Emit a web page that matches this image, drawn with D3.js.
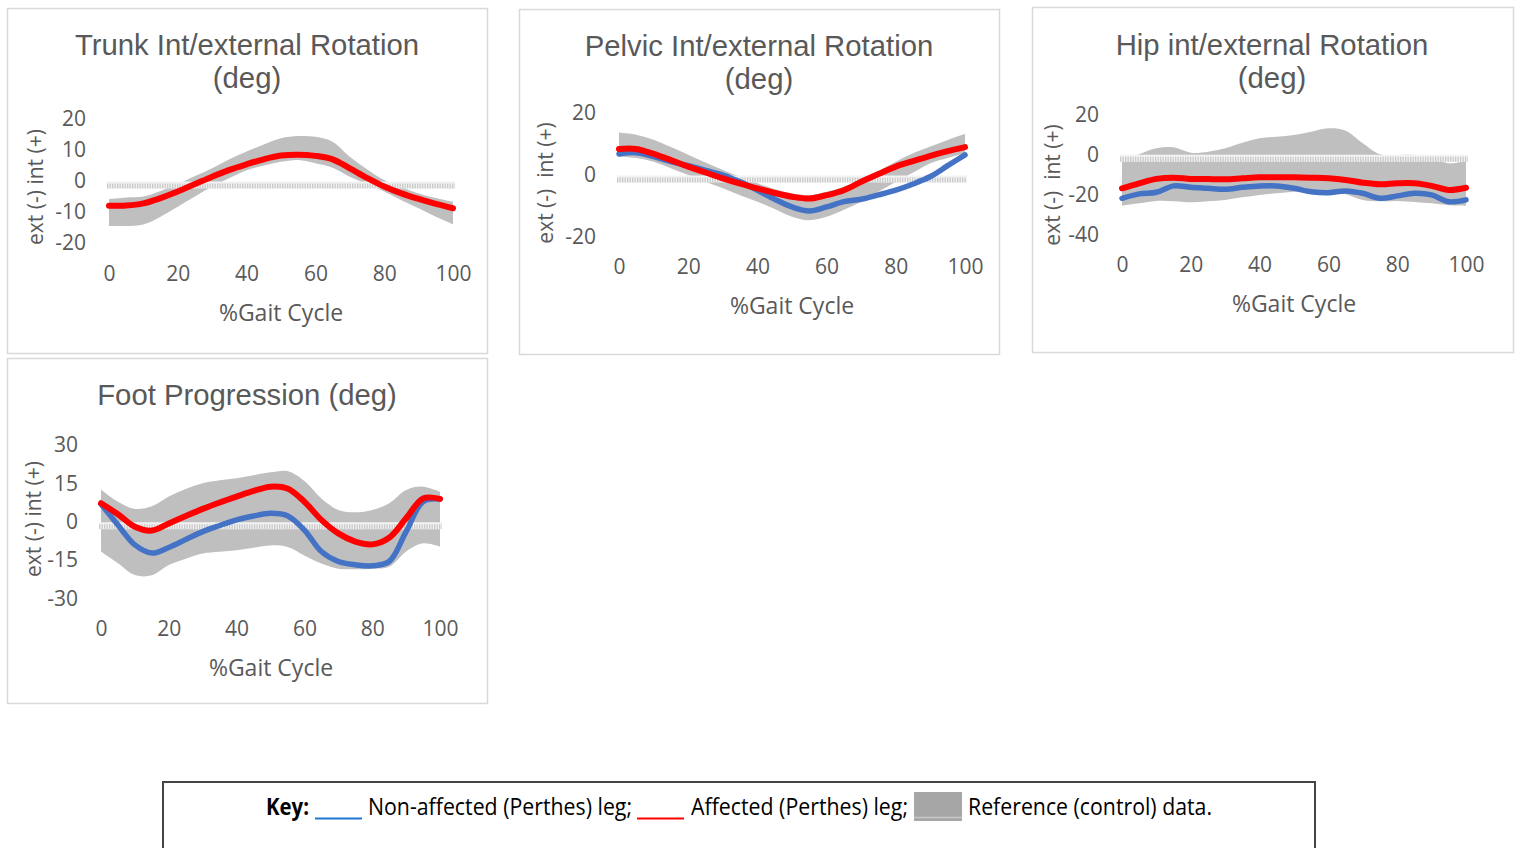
<!DOCTYPE html>
<html>
<head>
<meta charset="utf-8">
<script src="https://cdn.jsdelivr.net/npm/d3@7"></script>
<style>
  body { margin: 0; background: #fff; }
  svg { display: block; }
  .title { font-family: "Liberation Sans", Arial, sans-serif; font-size: 29.3px; fill: #595959; }
  .tick text { font-family: "Open Sans", sans-serif; font-size: 21px; fill: #595959; }
  .axis-title { font-family: "Open Sans", sans-serif; font-size: 23px; fill: #595959; white-space: pre; }
  .ytitle { font-family: "Open Sans", sans-serif; font-size: 21px; fill: #595959; white-space: pre; }
  .key { font-family: "Open Sans", sans-serif; font-size: 23px; fill: #000; }
</style>
</head>
<body>
<svg id="chart" width="1522" height="848"></svg>
<script>
// % gait cycle sample points (shared by all panels)
const gait = [0, 5, 10, 15, 20, 25, 30, 35, 40, 45, 50, 55, 60, 65, 70, 75, 80, 85, 90, 95, 100];

// Trunk int/external rotation
const trunkAffected = [-8.0, -7.9, -7.2, -5.5, -3.4, -1.0, 1.4, 3.6, 5.4, 7.0, 8.2, 8.5, 8.1, 7.0, 4.1, 1.0, -1.8, -4.0, -5.8, -7.4, -8.8];
const trunkRefUpper = [-5.8, -5.3, -5.0, -3.2, -1.0, 1.6, 4.1, 7.0, 9.5, 11.8, 13.8, 14.5, 14.3, 12.7, 7.8, 3.8, 0.3, -2.0, -4.0, -5.5, -6.7];
const trunkRefLower = [-14.5, -14.5, -14.0, -11.5, -8.3, -5.0, -1.8, 1.0, 3.5, 5.0, 6.2, 6.8, 5.7, 4.3, 1.4, -1.0, -3.4, -6.2, -8.8, -11.5, -13.9];

// Pelvic int/external rotation
const pelvicAffected = [8.4, 8.4, 6.8, 4.8, 2.7, 0.8, -1.1, -2.8, -4.3, -5.8, -7.0, -7.6, -6.5, -4.9, -2.2, 0.3, 2.7, 4.5, 6.2, 7.7, 9.0];
const pelvicNonAffected = [6.8, 7.2, 5.9, 4.3, 3.0, 1.5, 0.0, -2.2, -4.9, -7.8, -10.3, -11.6, -10.3, -8.6, -7.8, -6.4, -4.9, -2.9, -0.5, 3.0, 6.5];
const pelvicRefUpper = [13.7, 13.0, 11.4, 9.0, 6.5, 4.0, 1.6, -0.6, -2.7, -4.5, -5.9, -6.5, -5.4, -3.8, -1.6, 1.3, 4.3, 7.0, 9.2, 11.3, 13.3];
const pelvicRefLower = [5.9, 5.5, 4.3, 2.2, 0.0, -2.2, -4.3, -6.5, -8.6, -11.0, -13.5, -14.6, -13.5, -11.2, -8.6, -5.4, -2.2, 0.8, 3.8, 5.5, 7.0];

// Hip int/external rotation
const hipAffected = [-17.0, -14.5, -12.3, -11.7, -12.3, -12.4, -12.5, -12.0, -11.5, -11.5, -11.5, -11.7, -12.0, -12.8, -14.2, -15.0, -14.5, -14.5, -15.8, -17.8, -16.7];
const hipNonAffected = [-22.0, -19.8, -19.0, -15.8, -16.5, -17.0, -17.5, -16.5, -15.8, -15.8, -17.0, -18.7, -19.2, -18.3, -19.5, -22.0, -20.8, -19.5, -20.3, -23.7, -22.8];
const hipRefUpper = [-3.7, 0.0, 3.0, 3.5, 0.8, 1.3, 3.0, 5.8, 8.0, 8.8, 9.7, 11.3, 13.0, 11.8, 5.5, 0.0, -0.3, -0.3, -1.2, -4.5, -3.2];
const hipRefLower = [-25.7, -24.5, -23.3, -23.5, -24.0, -23.5, -22.8, -21.5, -20.3, -19.5, -18.7, -18.4, -18.2, -20.0, -22.8, -23.5, -23.3, -23.8, -24.5, -25.5, -25.8];

// Foot progression
const footAffected = [7.2, 2.9, -2.0, -3.5, -0.7, 2.2, 5.0, 7.5, 9.8, 12.0, 13.7, 13.0, 7.8, 0.7, -4.6, -7.8, -8.9, -6.3, 1.3, 9.1, 8.9];
const footNonAffected = [6.9, -1.3, -9.1, -12.3, -10.1, -7.0, -3.9, -1.5, 0.7, 2.2, 3.3, 2.3, -3.3, -11.7, -15.6, -16.9, -17.3, -15.6, -3.9, 7.8, 8.9];
const footRefUpper = [12.6, 7.8, 5.0, 6.0, 9.8, 12.8, 15.0, 16.2, 17.0, 18.2, 19.3, 19.8, 15.9, 9.1, 4.6, 3.7, 4.6, 7.2, 12.4, 13.7, 11.7];
const footRefLower = [-11.7, -16.3, -20.9, -21.0, -17.0, -14.5, -12.5, -11.8, -11.2, -10.2, -9.3, -9.9, -13.2, -16.4, -18.4, -18.6, -18.4, -17.7, -11.7, -8.5, -9.8];

// axis ticks
const xTicks = [0, 20, 40, 60, 80, 100];
const trunkTicks = [-20, -10, 0, 10, 20];
const pelvicTicks = [-20, 0, 20];
const hipTicks = [-40, -20, 0, 20];
const footTicks = [-30, -15, 0, 15, 30];

const BLUE = "#4472c4", RED = "#ff0000", BAND = "#bfbfbf";

const svg = d3.select("#chart");
const plain = d => String(d); // hyphen minus, like the original

function drawPanel(p) {
  const g = svg.append("g");

  g.append("rect")
    .attr("x", p.box[0] + 0.5).attr("y", p.box[1] + 0.5)
    .attr("width", p.box[2]).attr("height", p.box[3])
    .attr("fill", "#fff").attr("stroke", "#d9d9d9").attr("stroke-width", 1.5);

  p.title.forEach((t, i) => {
    g.append("text").attr("class", "title")
      .attr("x", p.titleX).attr("y", p.titleY[i])
      .attr("text-anchor", "middle").text(t);
  });

  const x = d3.scaleLinear().domain([0, 100]).range(p.xRange);
  const y = d3.scaleLinear().domain(p.yDomain).range(p.yRange);

  const band = d3.area()
    .x((d, i) => x(gait[i]))
    .y0((d, i) => y(p.lower[i]))
    .y1((d, i) => y(p.upper[i]))
    .curve(d3.curveCatmullRom);

  g.append("path").datum(p.upper).attr("d", band).attr("fill", BAND);

  // hatched zero line
  const y0 = y(0) + 4;
  g.append("line")
    .attr("x1", x(0) - 2).attr("x2", x(100) + 2).attr("y1", y0).attr("y2", y0)
    .attr("stroke", "#f2f2f2").attr("stroke-width", 7);
  g.append("line")
    .attr("x1", x(0) - 2).attr("x2", x(100) + 2).attr("y1", y0 + 1).attr("y2", y0 + 1)
    .attr("stroke", "#c9c9c9").attr("stroke-width", 5)
    .attr("stroke-dasharray", "1.3,1.2");

  const line = d3.line()
    .x((d, i) => x(gait[i]))
    .y(d => y(d))
    .curve(d3.curveCatmullRom);

  if (p.nonAffected) {
    g.append("path").datum(p.nonAffected).attr("d", line)
      .attr("fill", "none").attr("stroke", BLUE).attr("stroke-width", 5.5)
      .attr("stroke-linecap", "round").attr("stroke-linejoin", "round");
  }
  g.append("path").datum(p.affected).attr("d", line)
    .attr("fill", "none").attr("stroke", RED).attr("stroke-width", 6)
    .attr("stroke-linecap", "round").attr("stroke-linejoin", "round");

  const xAxis = g.append("g")
    .attr("transform", `translate(0,${p.xLabelY - 7.5})`)
    .call(d3.axisBottom(x).tickValues(xTicks).tickFormat(plain).tickSize(0).tickPadding(0));
  xAxis.select(".domain").remove();

  const yAxis = g.append("g")
    .attr("transform", `translate(${p.yLabelX},0)`)
    .call(d3.axisLeft(y).tickValues(p.yTicks).tickFormat(plain).tickSize(0).tickPadding(0));
  yAxis.select(".domain").remove();

  g.append("text").attr("class", "axis-title")
    .attr("x", p.xTitle[0]).attr("y", p.xTitle[1] + 8)
    .attr("text-anchor", "middle").text("%Gait Cycle");

  g.append("text").attr("class", "ytitle")
    .attr("transform", `translate(${p.yTitle[0]},${p.yTitle[1]}) rotate(-90)`)
    .attr("text-anchor", "middle").attr("dominant-baseline", "central")
    .text(p.yLabel);
}

drawPanel({
  box: [7, 8, 480, 345],
  title: ["Trunk Int/external Rotation", "(deg)"], titleX: 247, titleY: [55, 88],
  xRange: [109, 453], yDomain: [-20, 20], yRange: [243, 119], yTicks: trunkTicks,
  upper: trunkRefUpper, lower: trunkRefLower, affected: trunkAffected, nonAffected: null,
  xLabelY: 274, yLabelX: 86, xTitle: [281, 313], yTitle: [35, 187], yLabel: "ext (-) int (+)"
});

drawPanel({
  box: [519, 9, 480, 345],
  title: ["Pelvic Int/external Rotation", "(deg)"], titleX: 759, titleY: [56, 89],
  xRange: [619, 965], yDomain: [-20, 20], yRange: [237, 113], yTicks: pelvicTicks,
  upper: pelvicRefUpper, lower: pelvicRefLower, affected: pelvicAffected, nonAffected: pelvicNonAffected,
  xLabelY: 267, yLabelX: 596, xTitle: [792, 306], yTitle: [545, 183], yLabel: "ext (-)  int (+)"
});

drawPanel({
  box: [1032, 7, 481, 345],
  title: ["Hip int/external Rotation", "(deg)"], titleX: 1272, titleY: [55, 88],
  xRange: [1122, 1466], yDomain: [-40, 20], yRange: [234.3, 114.3], yTicks: hipTicks,
  upper: hipRefUpper, lower: hipRefLower, affected: hipAffected, nonAffected: hipNonAffected,
  xLabelY: 265, yLabelX: 1099, xTitle: [1294, 304], yTitle: [1052, 185], yLabel: "ext (-)  int (+)"
});

drawPanel({
  box: [7, 358, 480, 345],
  title: ["Foot Progression (deg)"], titleX: 247, titleY: [405],
  xRange: [101, 440], yDomain: [-30, 30], yRange: [598.3, 445], yTicks: footTicks,
  upper: footRefUpper, lower: footRefLower, affected: footAffected, nonAffected: footNonAffected,
  xLabelY: 629, yLabelX: 78, xTitle: [271, 668], yTitle: [33, 519], yLabel: "ext (-) int (+)"
});

// Key box
const key = svg.append("g");
key.append("path")
  .attr("d", "M163,860 V782 H1315 V860")
  .attr("fill", "none").attr("stroke", "#444").attr("stroke-width", 2);

key.append("text").attr("class", "key").attr("x", 266).attr("y", 815)
  .attr("font-weight", "bold").attr("textLength", 43).attr("lengthAdjust", "spacingAndGlyphs")
  .text("Key:");
key.append("line").attr("x1", 315).attr("x2", 362).attr("y1", 818.5).attr("y2", 818.5)
  .attr("stroke", "#1f77d4").attr("stroke-width", 2);
key.append("text").attr("class", "key").attr("x", 368).attr("y", 815)
  .attr("textLength", 264).attr("lengthAdjust", "spacingAndGlyphs")
  .text("Non-affected (Perthes) leg;");
key.append("line").attr("x1", 637).attr("x2", 684).attr("y1", 818.5).attr("y2", 818.5)
  .attr("stroke", RED).attr("stroke-width", 2);
key.append("text").attr("class", "key").attr("x", 691).attr("y", 815)
  .attr("textLength", 217).attr("lengthAdjust", "spacingAndGlyphs")
  .text("Affected (Perthes) leg;");
key.append("rect").attr("x", 914).attr("y", 792).attr("width", 48).attr("height", 29)
  .attr("fill", "#a6a6a6");
key.append("line").attr("x1", 914).attr("x2", 962).attr("y1", 817.5).attr("y2", 817.5)
  .attr("stroke", "#c8c8c8").attr("stroke-width", 1.5);
key.append("text").attr("class", "key").attr("x", 968).attr("y", 815)
  .attr("textLength", 244).attr("lengthAdjust", "spacingAndGlyphs")
  .text("Reference (control) data.");
</script>
</body>
</html>
